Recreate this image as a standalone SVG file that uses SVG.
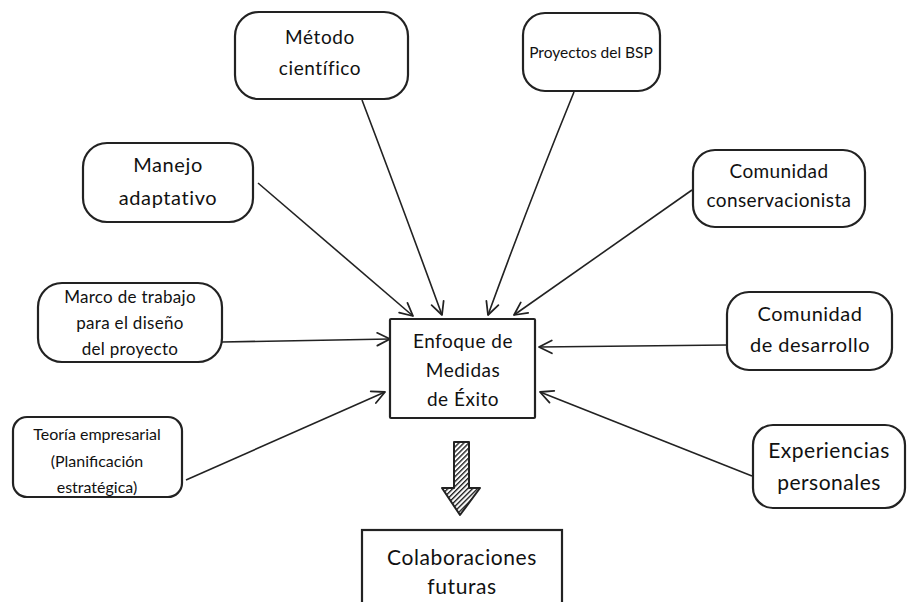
<svg xmlns="http://www.w3.org/2000/svg" width="914" height="602" viewBox="0 0 914 602">
<style>
.node{fill:#fff;stroke:#222;stroke-width:2.2}
.t{font-family:"Lato","Noto Sans",sans-serif;fill:#111;text-anchor:middle}
.c{stroke:#222;stroke-width:1.6;fill:none;marker-end:url(#ah)}
</style>
<defs>
<marker id="ah" viewBox="0 0 20 20" refX="18" refY="10" markerWidth="16" markerHeight="16" markerUnits="userSpaceOnUse" orient="auto">
<path d="M2,2 L18,10 L2,18" fill="none" stroke="#222" stroke-width="2.2" stroke-linecap="round" stroke-linejoin="round"/>
</marker>
<pattern id="hatch" patternUnits="userSpaceOnUse" width="3.5" height="3.5" patternTransform="rotate(45)">
<rect width="3.5" height="3.5" fill="#fff"/>
<line x1="0" y1="0" x2="0" y2="3.5" stroke="#222" stroke-width="2.8"/>
</pattern>
</defs>
<rect width="914" height="602" fill="#fff"/>
<g id="connectors">
<path class="c" d="M362,100 Q400,200 442,315"/>
<path class="c" d="M574,92 Q530,200 488,315"/>
<path class="c" d="M258,183 L413,316"/>
<path class="c" d="M692,190 L514,315"/>
<path class="c" d="M222,342 L390,339"/>
<path class="c" d="M727,345 L539,347"/>
<path class="c" d="M186,480 L385,392"/>
<path class="c" d="M752,476 L540,392"/>
</g>
<g id="metodo">
<rect class="node" x="235" y="12" width="173" height="87" rx="24"/>
<text class="t" x="320" y="44" font-size="19" letter-spacing="0.6">Método</text>
<text class="t" x="320" y="75" font-size="19" letter-spacing="0.6">científico</text>
</g>
<g id="proyectos">
<rect class="node" x="523" y="13" width="137" height="78" rx="22"/>
<text class="t" x="591" y="58" font-size="15.5">Proyectos del BSP</text>
</g>
<g id="manejo">
<rect class="node" x="83" y="143" width="170" height="79" rx="24"/>
<text class="t" x="168" y="172" font-size="20" letter-spacing="0.6">Manejo</text>
<text class="t" x="168" y="205" font-size="20" letter-spacing="0.6">adaptativo</text>
</g>
<g id="conservacionista">
<rect class="node" x="693" y="150" width="172" height="77" rx="22"/>
<text class="t" x="779" y="178" font-size="19" letter-spacing="0.4">Comunidad</text>
<text class="t" x="779" y="207" font-size="19" letter-spacing="0.4">conservacionista</text>
</g>
<g id="marco">
<rect class="node" x="38" y="283" width="184" height="79" rx="24"/>
<text class="t" x="130" y="303" font-size="17" letter-spacing="0.3">Marco de trabajo</text>
<text class="t" x="130" y="329" font-size="17" letter-spacing="0.3">para el diseño</text>
<text class="t" x="130" y="355" font-size="17" letter-spacing="0.3">del proyecto</text>
</g>
<g id="desarrollo">
<rect class="node" x="727" y="292" width="165" height="78" rx="22"/>
<text class="t" x="810" y="321" font-size="20" letter-spacing="0.5">Comunidad</text>
<text class="t" x="810" y="352" font-size="20" letter-spacing="0.5">de desarrollo</text>
</g>
<g id="teoria">
<rect class="node" x="13" y="417" width="169" height="80" rx="14"/>
<text class="t" x="97" y="440" font-size="16">Teoría empresarial</text>
<text class="t" x="97" y="467" font-size="16">(Planificación</text>
<text class="t" x="97" y="493" font-size="16">estratégica)</text>
</g>
<g id="experiencias">
<rect class="node" x="753" y="425" width="152" height="83" rx="20"/>
<text class="t" x="829" y="458" font-size="21" letter-spacing="0.5">Experiencias</text>
<text class="t" x="829" y="490" font-size="21" letter-spacing="0.5">personales</text>
</g>
<g id="enfoque">
<rect class="node" x="390" y="319" width="145" height="99" rx="1"/>
<text class="t" x="463" y="348" font-size="19" letter-spacing="0.5">Enfoque de</text>
<text class="t" x="463" y="377" font-size="19" letter-spacing="0.5">Medidas</text>
<text class="t" x="463" y="406" font-size="19" letter-spacing="0.5">de Éxito</text>
</g>
<g id="flecha">
<path d="M454,442 L469,442 L469,488 L480,488 L460,515 L442,488 L454,488 Z" fill="url(#hatch)" stroke="#222" stroke-width="2" stroke-linejoin="round"/>
</g>
<g id="colaboraciones">
<rect class="node" x="362" y="530" width="200" height="90"/>
<text class="t" x="462" y="565" font-size="21" letter-spacing="0.6">Colaboraciones</text>
<text class="t" x="462" y="594" font-size="21" letter-spacing="0.6">futuras</text>
</g>
</svg>
